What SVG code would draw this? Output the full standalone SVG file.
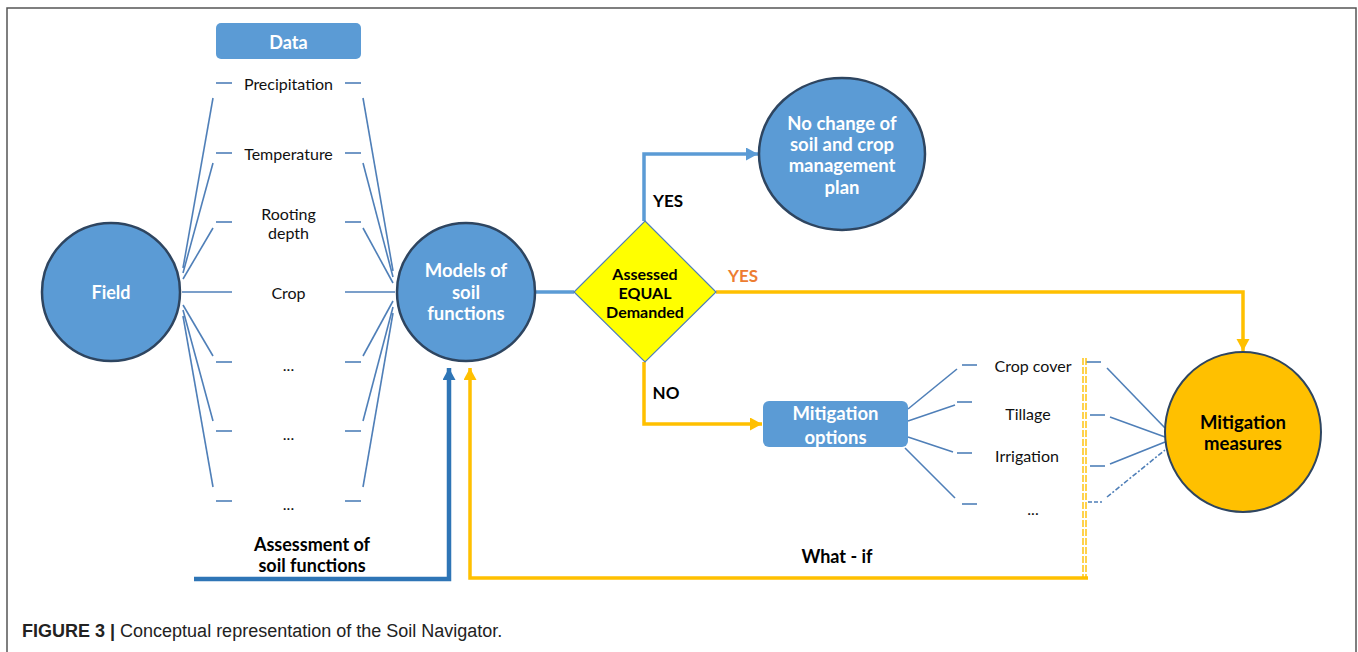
<svg xmlns="http://www.w3.org/2000/svg" width="1358" height="652" viewBox="0 0 1358 652">
<defs>
<style>
.nodeB{fill:#5b9bd5;stroke:#2e4560;stroke-width:2.5}
.nodeO{fill:#ffc000;stroke:#2e4560;stroke-width:2}
.wt{font-family:Lato,"Open Sans",sans-serif;font-weight:bold;fill:#fff;text-anchor:middle;dominant-baseline:central}
.bt{font-family:Lato,"Open Sans",sans-serif;font-weight:bold;fill:#000;text-anchor:middle;dominant-baseline:central}
.lt{font-family:Lato,"Open Sans",sans-serif;fill:#111;text-anchor:middle;dominant-baseline:central;font-size:16px}
.fan{stroke:#4f7fb8;stroke-width:1.6;fill:none}
.blu{stroke:#5b9bd5;stroke-width:3.5;fill:none}
.dblu{stroke:#2e75b6;stroke-width:4.5;fill:none}
.org{stroke:#ffc000;stroke-width:3.5;fill:none}
</style>
<marker id="aB" markerUnits="userSpaceOnUse" markerWidth="14" markerHeight="14" refX="12" refY="6.5" orient="auto"><path d="M0,0 L12,6.5 L0,13 z" fill="#5b9bd5"/></marker>
<marker id="aDB" markerUnits="userSpaceOnUse" markerWidth="14" markerHeight="14" refX="12" refY="6.5" orient="auto"><path d="M0,0 L12,6.5 L0,13 z" fill="#2e75b6"/></marker>
<marker id="aO" markerUnits="userSpaceOnUse" markerWidth="14" markerHeight="14" refX="12" refY="6.5" orient="auto"><path d="M0,0 L12,6.5 L0,13 z" fill="#ffc000"/></marker>
</defs>
<rect width="1358" height="652" fill="#fff"/>
<path d="M7,652 L7,8 L1356,8 L1356,652" fill="none" stroke="#555" stroke-width="1.5"/>

<g id="connectors">
  <g class="fan">
    <line x1="216" y1="83" x2="232" y2="83"/><line x1="345" y1="83" x2="361" y2="83"/>
    <line x1="216" y1="153" x2="232" y2="153"/><line x1="345" y1="153" x2="361" y2="153"/>
    <line x1="216" y1="222" x2="232" y2="222"/><line x1="345" y1="222" x2="361" y2="222"/>
    <line x1="182" y1="292" x2="232" y2="292"/><line x1="345" y1="292" x2="395" y2="292"/>
    <line x1="216" y1="362" x2="232" y2="362"/><line x1="345" y1="362" x2="361" y2="362"/>
    <line x1="216" y1="431" x2="232" y2="431"/><line x1="345" y1="431" x2="361" y2="431"/>
    <line x1="216" y1="501" x2="232" y2="501"/><line x1="345" y1="501" x2="361" y2="501"/>
    <line x1="183" y1="268" x2="213" y2="98"/>
    <line x1="183" y1="273" x2="213" y2="163"/>
    <line x1="183" y1="279" x2="213" y2="228"/>
    <line x1="183" y1="305" x2="213" y2="356"/>
    <line x1="183" y1="310" x2="213" y2="421"/>
    <line x1="183" y1="316" x2="213" y2="487"/>
    <line x1="363" y1="98" x2="393" y2="271"/>
    <line x1="363" y1="163" x2="393" y2="277"/>
    <line x1="363" y1="228" x2="393" y2="283"/>
    <line x1="363" y1="356" x2="393" y2="301"/>
    <line x1="363" y1="421" x2="393" y2="307"/>
    <line x1="363" y1="487" x2="393" y2="313"/>
  </g>
  <g class="fan">
    <line x1="908" y1="409" x2="957" y2="369"/><line x1="962" y1="365" x2="977" y2="365"/>
    <line x1="908" y1="421" x2="955" y2="405"/><line x1="957" y1="402" x2="972" y2="402"/>
    <line x1="908" y1="437" x2="953" y2="452"/><line x1="957" y1="453" x2="972" y2="453"/>
    <line x1="905" y1="448" x2="955" y2="498"/><line x1="962" y1="504" x2="977" y2="504"/>
    <line x1="1086" y1="362" x2="1101" y2="362"/><line x1="1107" y1="368" x2="1165" y2="428"/>
    <line x1="1090" y1="415" x2="1105" y2="415"/><line x1="1110" y1="417" x2="1165" y2="437"/>
    <line x1="1090" y1="466" x2="1105" y2="466"/><line x1="1110" y1="464" x2="1165" y2="442"/>
    <line x1="1088" y1="502" x2="1102" y2="502" stroke-dasharray="4 2"/><line x1="1107" y1="497" x2="1165" y2="450" stroke-dasharray="5 2 2 2"/>
  </g>
  <line x1="1083" y1="358" x2="1083" y2="578" stroke="#ffc000" stroke-width="1.4" stroke-dasharray="7 2"/>
  <line x1="1086" y1="358" x2="1086" y2="578" stroke="#ffc000" stroke-width="1.4" stroke-dasharray="7 2"/>
  <line x1="535" y1="292" x2="574" y2="292" class="blu"/>
  <path d="M644,221 L644,154 L758,154" class="blu" marker-end="url(#aB)"/>
  <path d="M716,292 L1243,292 L1243,351" class="org" marker-end="url(#aO)"/>
  <path d="M644,362 L644,424 L762,424" class="org" marker-end="url(#aO)"/>
  <path d="M194,579 L449,579 L449,368" class="dblu" marker-end="url(#aDB)"/>
  <path d="M1088,578 L470,578 L470,368" class="org" marker-end="url(#aO)"/>
</g>

<g id="data">
  <rect x="216" y="23" width="145" height="36" rx="5" fill="#5b9bd5"/>
  <text x="288.5" y="42" class="wt" font-size="18">Data</text>
</g>
<g id="data-items">
  <text x="288.5" y="83" class="lt">Precipitation</text>
  <text x="288.5" y="153" class="lt">Temperature</text>
  <text x="288.5" y="213" class="lt">Rooting</text>
  <text x="288.5" y="232" class="lt">depth</text>
  <text x="288.5" y="292" class="lt">Crop</text>
  <text x="288.5" y="364" class="lt" font-size="9">...</text>
  <text x="288.5" y="433" class="lt" font-size="9">...</text>
  <text x="288.5" y="503" class="lt" font-size="9">...</text>
</g>
<g id="field">
  <circle cx="111" cy="292" r="69" class="nodeB"/>
  <text x="111" y="292" class="wt" font-size="18">Field</text>
</g>
<g id="models">
  <circle cx="466" cy="292" r="69" class="nodeB"/>
  <text x="466" y="270" class="wt" font-size="18.5">Models of</text>
  <text x="466" y="292" class="wt" font-size="18.5">soil</text>
  <text x="466" y="313" class="wt" font-size="18.5">functions</text>
</g>
<g id="decision">
  <polygon points="645,221 716,292 645,362 574,292" fill="#ffff00" stroke="#4f7fb8" stroke-width="1.2"/>
  <text x="645" y="273" class="bt" font-size="16">Assessed</text>
  <text x="645" y="292" class="bt" font-size="16">EQUAL</text>
  <text x="645" y="311" class="bt" font-size="16">Demanded</text>
</g>
<g id="nochange">
  <ellipse cx="842" cy="154" rx="83" ry="76" class="nodeB"/>
  <text x="842" y="123" class="wt" font-size="18.5">No change of</text>
  <text x="842" y="144" class="wt" font-size="18.5">soil and crop</text>
  <text x="842" y="165" class="wt" font-size="18.5">management</text>
  <text x="842" y="187" class="wt" font-size="18.5">plan</text>
</g>
<g id="options">
  <rect x="763" y="401" width="145" height="46" rx="6" fill="#5b9bd5"/>
  <text x="835.5" y="413" class="wt" font-size="18.5">Mitigation</text>
  <text x="835.5" y="437" class="wt" font-size="18.5">options</text>
</g>
<g id="option-items">
  <text x="1033" y="365" class="lt">Crop cover</text>
  <text x="1028" y="413" class="lt">Tillage</text>
  <text x="1027" y="455" class="lt">Irrigation</text>
  <text x="1033" y="508" class="lt" font-size="9">...</text>
</g>
<g id="measures">
  <ellipse cx="1243" cy="432" rx="78" ry="80" class="nodeO"/>
  <text x="1243" y="422" class="bt" font-size="18.5">Mitigation</text>
  <text x="1243" y="443" class="bt" font-size="18.5">measures</text>
</g>
<g id="labels">
  <text x="668" y="200" class="bt" font-size="17">YES</text>
  <text x="743" y="275" class="bt" font-size="17" style="fill:#ed7d31">YES</text>
  <text x="666" y="392" class="bt" font-size="17">NO</text>
  <text x="312" y="544" class="bt" font-size="18">Assessment of</text>
  <text x="312" y="565" class="bt" font-size="18">soil functions</text>
  <text x="837" y="556" class="bt" font-size="18">What - if</text>
</g>
<g id="caption">
  <text x="22" y="637" font-family="Liberation Sans, Arial, sans-serif" font-size="18" fill="#222"><tspan font-weight="bold">FIGURE 3 |</tspan> Conceptual representation of the Soil Navigator.</text>
</g>
</svg>
